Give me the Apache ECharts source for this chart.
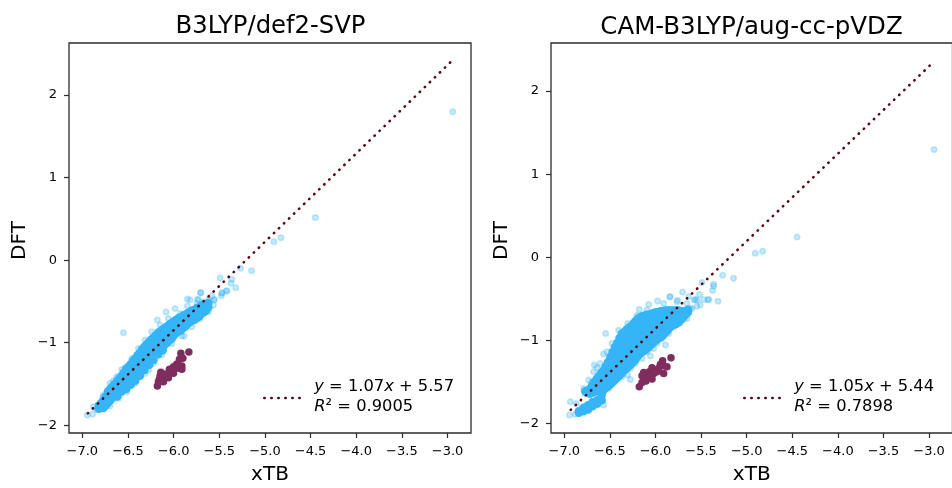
<!DOCTYPE html>
<html>
<head>
<meta charset="utf-8">
<title>xTB vs DFT</title>
<script src="https://cdn.jsdelivr.net/npm/echarts@6/dist/echarts.min.js"></script>
<style>
html, body { margin: 0; padding: 0; background: #fff; overflow: hidden; }
#main { width: 952px; height: 488px; }
</style>
</head>
<body>
<div id="main"></div>
<script>
var titles = ['B3LYP/def2-SVP', 'CAM-B3LYP/aug-cc-pVDZ'];
var fitText = ['{i|y} = 1.07{i|x} + 5.57', '{i|y} = 1.05{i|x} + 5.44'];
var r2Text = ['{i|R}² = 0.9005', '{i|R}² = 0.7898'];
var xTicks = [-7, -6.5, -6, -5.5, -5, -4.5, -4, -3.5, -3];
var yTicks = [-2, -1, 0, 1, 2];

// fit lines
var fitLeft = [[-6.94, -1.855], [-2.97, 2.395]];
var fitRight = [[-6.93, -1.835], [-2.945, 2.355]];

// dense part of the cloud, [x, [y, y, ...]] by column
var coreLeft = [
	[-6.82, [-1.76, -1.80]],
	[-6.795, [-1.73, -1.79]],
	[-6.77, [-1.70, -1.75, -1.79]],
	[-6.745, [-1.65, -1.76]],
	[-6.72, [-1.59, -1.64, -1.69, -1.73]],
	[-6.695, [-1.56, -1.70]],
	[-6.67, [-1.53, -1.59, -1.63, -1.67]],
	[-6.645, [-1.50, -1.64]],
	[-6.62, [-1.47, -1.52, -1.57, -1.61, -1.65]],
	[-6.595, [-1.43, -1.58]],
	[-6.57, [-1.40, -1.45, -1.50, -1.55, -1.59]],
	[-6.545, [-1.36, -1.53]],
	[-6.52, [-1.32, -1.38, -1.43, -1.48, -1.52, -1.56]],
	[-6.495, [-1.29, -1.50]],
	[-6.47, [-1.26, -1.31, -1.37, -1.42, -1.47, -1.51]],
	[-6.445, [-1.22, -1.44]],
	[-6.42, [-1.19, -1.25, -1.31, -1.37, -1.42, -1.46]],
	[-6.395, [-1.15, -1.39]],
	[-6.37, [-1.12, -1.18, -1.24, -1.30, -1.36, -1.40]],
	[-6.345, [-1.08, -1.32]],
	[-6.32, [-1.05, -1.11, -1.17, -1.23, -1.29, -1.33]],
	[-6.295, [-1.02, -1.26]],
	[-6.27, [-0.99, -1.05, -1.11, -1.17, -1.23, -1.27]],
	[-6.245, [-0.96, -1.20]],
	[-6.22, [-0.94, -1.00, -1.06, -1.12, -1.17, -1.21]],
	[-6.195, [-0.91, -1.13]],
	[-6.17, [-0.88, -0.94, -1.00, -1.05, -1.09, -1.14]],
	[-6.145, [-0.86, -1.07]],
	[-6.12, [-0.84, -0.89, -0.95, -1.00, -1.05, -1.09]],
	[-6.095, [-0.82, -1.02]],
	[-6.07, [-0.80, -0.85, -0.90, -0.95, -1.00]],
	[-6.045, [-0.78, -0.97]],
	[-6.02, [-0.76, -0.81, -0.86, -0.91, -0.95]],
	[-5.995, [-0.74, -0.91]],
	[-5.97, [-0.72, -0.77, -0.83, -0.88]],
	[-5.945, [-0.70, -0.86]],
	[-5.92, [-0.69, -0.74, -0.80, -0.85]],
	[-5.895, [-0.67, -0.82]],
	[-5.87, [-0.66, -0.71, -0.76, -0.80]],
	[-5.845, [-0.64, -0.77]],
	[-5.82, [-0.63, -0.68, -0.75]],
	[-5.795, [-0.61, -0.73]],
	[-5.77, [-0.60, -0.66, -0.72]],
	[-5.745, [-0.58, -0.70]],
	[-5.72, [-0.57, -0.62, -0.68]],
	[-5.695, [-0.55, -0.65]],
	[-5.67, [-0.54, -0.59, -0.63]],
	[-5.645, [-0.53, -0.61]],
	[-5.62, [-0.52, -0.57]]
];
var coreRight = [
	[-6.84, [-1.85, -1.87]],
	[-6.79, [-1.81, -1.85]],
	[-6.77, [-1.61]],
	[-6.74, [-1.78, -1.83]],
	[-6.72, [-1.58, -1.64]],
	[-6.695, [-1.54, -1.63]],
	[-6.69, [-1.74, -1.79]],
	[-6.67, [-1.50, -1.56, -1.62]],
	[-6.645, [-1.46, -1.60]],
	[-6.64, [-1.72, -1.76]],
	[-6.62, [-1.43, -1.49, -1.55, -1.61]],
	[-6.595, [-1.39, -1.63]],
	[-6.59, [-1.66, -1.72]],
	[-6.57, [-1.36, -1.42, -1.48, -1.54, -1.60]],
	[-6.545, [-1.31, -1.57]],
	[-6.52, [-1.26, -1.32, -1.38, -1.44, -1.50, -1.55]],
	[-6.495, [-1.20, -1.53]],
	[-6.47, [-1.14, -1.20, -1.26, -1.32, -1.38, -1.44, -1.50]],
	[-6.445, [-1.08, -1.47]],
	[-6.42, [-1.03, -1.09, -1.15, -1.21, -1.27, -1.33, -1.39, -1.45]],
	[-6.395, [-0.97, -1.42]],
	[-6.37, [-0.92, -0.98, -1.04, -1.10, -1.16, -1.22, -1.28, -1.34, -1.39]],
	[-6.345, [-0.90, -1.36]],
	[-6.32, [-0.87, -0.93, -0.99, -1.05, -1.11, -1.17, -1.23, -1.29, -1.34]],
	[-6.295, [-0.85, -1.31]],
	[-6.27, [-0.83, -0.89, -0.95, -1.01, -1.07, -1.13, -1.19, -1.25, -1.29]],
	[-6.245, [-0.80, -1.26]],
	[-6.22, [-0.77, -0.83, -0.89, -0.95, -1.01, -1.07, -1.13, -1.18, -1.23]],
	[-6.195, [-0.74, -1.19]],
	[-6.17, [-0.72, -0.78, -0.84, -0.90, -0.96, -1.02, -1.08, -1.12, -1.16]],
	[-6.145, [-0.71, -1.14]],
	[-6.12, [-0.70, -0.76, -0.82, -0.88, -0.94, -1.00, -1.06, -1.12]],
	[-6.095, [-0.69, -1.10]],
	[-6.07, [-0.69, -0.75, -0.81, -0.87, -0.93, -0.99, -1.04, -1.08]],
	[-6.045, [-0.68, -1.05]],
	[-6.02, [-0.67, -0.73, -0.79, -0.85, -0.91, -0.97, -1.02]],
	[-5.995, [-0.66, -1.00]],
	[-5.97, [-0.66, -0.72, -0.78, -0.84, -0.90, -0.94, -0.98]],
	[-5.945, [-0.65, -0.96]],
	[-5.92, [-0.65, -0.71, -0.77, -0.83, -0.89, -0.94]],
	[-5.895, [-0.64, -0.91]],
	[-5.87, [-0.64, -0.70, -0.76, -0.82, -0.88]],
	[-5.845, [-0.64, -0.85]],
	[-5.82, [-0.64, -0.70, -0.76, -0.82]],
	[-5.795, [-0.64, -0.81]],
	[-5.77, [-0.64, -0.70, -0.76, -0.80]],
	[-5.745, [-0.64, -0.78]],
	[-5.72, [-0.65, -0.70, -0.75]],
	[-5.695, [-0.65, -0.72]],
	[-5.67, [-0.65, -0.69]],
	[-5.645, [-0.63, -0.66]]
];

// single faint points around the cloud
var sparseLeft = [
	[-2.943, 1.797], [-4.448, 0.518], [-4.825, 0.271], [-4.902, 0.223], [-5.147, -0.128],
	[-5.268, -0.099], [-5.362, -0.232], [-5.373, -0.281], [-5.49, -0.217], [-5.32, -0.334],
	[-5.424, -0.374], [-5.471, -0.402], [-5.479, -0.435], [-5.581, -0.435], [-5.702, -0.395],
	[-5.556, -0.483], [-5.564, -0.547], [-5.654, -0.535], [-5.74, -0.475], [-5.82, -0.483],
	[-6.55, -0.879], [-6.083, -0.629], [-6.178, -0.726], [-5.984, -0.584], [-5.849, -0.471],
	[-5.849, -0.556], [-5.706, -0.395], [-5.728, -0.475], [-5.417, -0.37], [-5.472, -0.395],
	[-5.556, -0.475], [-5.655, -0.524], [-5.885, -0.919], [-6.276, -1.331], [-6.569, -1.323],
	[-6.66, -1.46], [-6.777, -1.662], [-6.879, -1.775], [-6.887, -1.864], [-6.945, -1.876],
	[-6.843, -1.807], [-6.587, -1.634],
	[-6.77, -1.634], [-6.697, -1.492], [-6.624, -1.412], [-6.532, -1.299], [-6.459, -1.19],
	[-6.386, -1.069], [-6.313, -0.968], [-6.24, -0.867], [-6.148, -0.786], [-6.057, -0.705],
	[-5.929, -0.645], [-5.819, -0.605], [-5.746, -0.524], [-5.673, -0.504], [-5.618, -0.483],
	[-6.697, -1.767], [-6.605, -1.674], [-6.514, -1.593], [-6.423, -1.492], [-6.313, -1.371],
	[-6.221, -1.25], [-6.13, -1.149], [-6.02, -1.008], [-5.911, -0.919], [-5.801, -0.806],
	[-5.71, -0.705], [-5.618, -0.625]
];
var sparseRight = [
	[-2.945, 1.295], [-4.448, 0.245], [-4.826, 0.073], [-4.906, 0.049], [-5.144, -0.251],
	[-5.264, -0.215], [-5.363, -0.323], [-5.363, -0.347], [-5.374, -0.399], [-5.49, -0.303],
	[-5.315, -0.528], [-5.424, -0.512], [-5.472, -0.507], [-5.516, -0.447], [-5.703, -0.416],
	[-5.564, -0.507], [-5.545, -0.588], [-5.758, -0.516], [-5.838, -0.476], [-5.618, -0.615],
	[-5.655, -0.736], [-6.547, -0.916], [-6.075, -0.567], [-6.178, -0.627], [-5.977, -0.527],
	[-5.845, -0.475], [-5.417, -0.507], [-5.575, -0.515], [-5.637, -0.475], [-5.89, -1.056],
	[-6.057, -1.188], [-6.306, -1.417], [-6.276, -1.469], [-6.357, -1.397], [-6.569, -1.164],
	[-6.671, -1.296], [-6.642, -1.325], [-6.77, -1.637], [-6.934, -1.737], [-6.868, -1.757],
	[-6.942, -1.897], [-6.879, -1.889], [-6.569, -1.777], [-6.66, -1.757], [-6.697, -1.497],
	[-5.655, -0.555], [-5.6, -0.615], [-5.545, -0.515], [-5.509, -0.575], [-5.69, -0.675],
	[-5.637, -0.655], [-5.728, -0.736], [-5.765, -0.776], [-5.801, -0.836], [-5.856, -0.916],
	[-5.929, -0.976], [-5.984, -1.036], [-6.02, -1.096], [-6.094, -1.136], [-6.148, -1.216],
	[-6.221, -1.276], [-6.276, -1.337], [-6.368, -1.437], [-6.441, -1.497], [-6.514, -1.577],
	[-6.587, -1.629], [-6.404, -0.876], [-6.477, -1.036], [-6.532, -1.136], [-6.605, -1.276],
	[-6.678, -1.377], [-6.733, -1.477], [-6.788, -1.577], [-6.306, -0.796], [-6.203, -0.696],
	[-6.094, -0.635], [-5.911, -0.555], [-5.765, -0.535]
];

// purple group
var groupLeft = [
	[-5.833, -1.113], [-5.921, -1.128], [-5.936, -1.201], [-5.899, -1.189], [-5.91, -1.282],
	[-5.91, -1.322], [-5.965, -1.258], [-6.002, -1.29], [-6.02, -1.339], [-6.057, -1.37],
	[-6.093, -1.383], [-6.14, -1.358], [-6.148, -1.399], [-6.156, -1.443], [-6.104, -1.431],
	[-6.057, -1.424], [-6.002, -1.37], [-5.948, -1.31], [-6.178, -1.524], [-6.167, -1.472],
	[-6.112, -1.472], [-6.046, -1.322]
];
var groupRight = [
	[-5.83, -1.209], [-5.922, -1.245], [-5.947, -1.288], [-5.874, -1.317], [-5.911, -1.397],
	[-5.966, -1.337], [-6.038, -1.329], [-6.068, -1.377], [-6.02, -1.397], [-6.13, -1.385],
	[-6.148, -1.425], [-6.093, -1.409], [-6.038, -1.465], [-6.104, -1.489], [-6.148, -1.505],
	[-6.178, -1.558], [-5.984, -1.377], [-5.911, -1.305], [-6.068, -1.437]
];

var fontName = '"DejaVu Sans"';
var blue = '#35b5f7';
var purple = '#7f2d5e';
var lineColor = '#5a0713';
var spine = '#2b2b2b';

function flatten(columns) {
	var out = [];
	columns.forEach(function (col) {
		col[1].forEach(function (y) {
			out.push([col[0], y]);
		});
	});
	return out;
}

function minusSign(v) {
	return String(v).replace('-', '\u2212');
}

function xAxis(idx) {
	return {
		type: 'value',
		gridIndex: idx,
		min: -7.146,
		max: -2.743,
		name: 'xTB',
		nameLocation: 'center',
		nameGap: 32,
		nameTextStyle: { fontFamily: fontName, fontSize: 20, color: '#000' },
		splitLine: { show: false },
		axisLine: { show: false, onZero: false },
		axisTick: { show: true, length: 5, customValues: xTicks, lineStyle: { color: spine, width: 1.2 } },
		axisLabel: {
			show: true,
			customValues: xTicks,
			margin: 12,
			fontFamily: fontName,
			fontSize: 13,
			color: '#000',
			formatter: function (v) {
				return minusSign(v.toFixed(1));
			}
		}
	};
}

function yAxis(idx, min, max) {
	return {
		type: 'value',
		gridIndex: idx,
		min: min,
		max: max,
		name: 'DFT',
		nameLocation: 'center',
		nameGap: 39,
		nameTextStyle: { fontFamily: fontName, fontSize: 20, color: '#000', padding: [0, 5, 0, 0] },
		splitLine: { show: false },
		axisLine: { show: false, onZero: false },
		axisTick: { show: true, length: 5, customValues: yTicks, lineStyle: { color: spine, width: 1.2 } },
		axisLabel: {
			show: true,
			customValues: yTicks,
			margin: 12,
			fontFamily: fontName,
			fontSize: 13,
			color: '#000',
			formatter: function (v) {
				return minusSign(v);
			}
		}
	};
}

function panelSeries(idx, core, sparse, group, fit) {
	return [
		{
			type: 'scatter',
			xAxisIndex: idx,
			yAxisIndex: idx,
			z: 2,
			symbolSize: 5.5,
			data: sparse,
			silent: true,
			itemStyle: { color: blue, opacity: 0.28, borderColor: blue, borderWidth: 1.5 }
		},
		{
			type: 'scatter',
			xAxisIndex: idx,
			yAxisIndex: idx,
			z: 3,
			symbolSize: 8.5,
			data: flatten(core),
			silent: true,
			itemStyle: { color: blue, opacity: 1 }
		},
		{
			type: 'scatter',
			xAxisIndex: idx,
			yAxisIndex: idx,
			z: 4,
			symbolSize: 7.5,
			data: group,
			silent: true,
			itemStyle: { color: purple, opacity: 1 }
		},
		{
			type: 'line',
			xAxisIndex: idx,
			yAxisIndex: idx,
			zlevel: 1,
			z: 5,
			data: fit,
			symbol: 'none',
			silent: true,
			lineStyle: { color: lineColor, width: 2.6, type: [0.4, 6.6], cap: 'round', opacity: 1 }
		}
	];
}

function legendBlock(x, idx) {
	var textRich = { i: { fontFamily: fontName, fontSize: 16.3, fontStyle: 'italic', fill: '#000' } };
	return [
		{
			type: 'line',
			shape: { x1: x, y1: 398, x2: x + 36, y2: 398 },
			style: { stroke: lineColor, lineWidth: 2.6, lineDash: [0.4, 6.6], lineCap: 'round' }
		},
		{
			type: 'text',
			x: x + 50,
			y: 387,
			style: { text: fitText[idx], rich: textRich, fontFamily: fontName, fontSize: 16.3, fill: '#000', verticalAlign: 'middle' }
		},
		{
			type: 'text',
			x: x + 50,
			y: 407,
			style: { text: r2Text[idx], rich: textRich, fontFamily: fontName, fontSize: 16.3, fill: '#000', verticalAlign: 'middle' }
		}
	];
}

var myChart = echarts.init(document.getElementById('main'), null, { renderer: 'canvas' });

var option = {
	animation: false,
	backgroundColor: '#fff',
	title: [
		{ text: titles[0], left: 265.5, top: 10, textAlign: 'center', textStyle: { fontFamily: fontName, fontSize: 24.3, fontWeight: 'normal', color: '#000' } },
		{ text: titles[1], left: 746.5, top: 10, textAlign: 'center', textStyle: { fontFamily: fontName, fontSize: 24.5, fontWeight: 'normal', color: '#000' } }
	],
	grid: [
		{ left: 69, top: 43, width: 402, height: 390, show: true, borderColor: spine, borderWidth: 1.3, backgroundColor: 'transparent', outerBoundsMode: 'none' },
		{ left: 551, top: 43, width: 401.5, height: 390, show: true, borderColor: spine, borderWidth: 1.3, backgroundColor: 'transparent', outerBoundsMode: 'none' }
	],
	xAxis: [xAxis(0), xAxis(1)],
	yAxis: [yAxis(0, -2.093, 2.63), yAxis(1, -2.113, 2.577)],
	graphic: legendBlock(264.3, 0).concat(legendBlock(744.3, 1)),
	series: panelSeries(0, coreLeft, sparseLeft, groupLeft, fitLeft)
		.concat(panelSeries(1, coreRight, sparseRight, groupRight, fitRight))
};

myChart.setOption(option);
</script>
</body>
</html>
